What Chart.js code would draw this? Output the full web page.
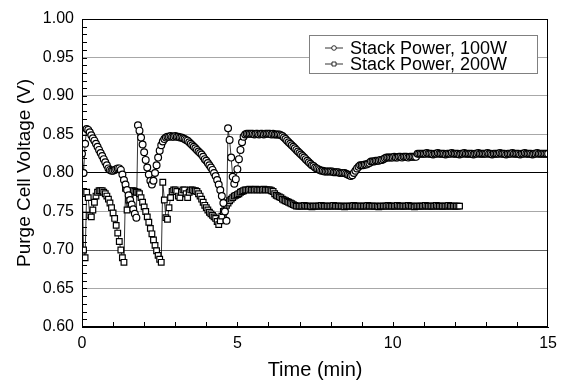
<!DOCTYPE html>
<html>
<head>
<meta charset="utf-8">
<script src="https://cdn.jsdelivr.net/npm/chart.js@4"></script>
<style>
  html, body { margin: 0; padding: 0; background: #fff; }
</style>
</head>
<body>
<canvas id="purgeChart" width="564" height="382"></canvas>
<script>
// logged every 3 s (0.05 min)
const sampleStep = 0.05;

const seriesLabels = ['Stack Power, 100W', 'Stack Power, 200W'];

const power100 = [
  0.825,0.800,0.838,0.857,0.856,0.853,0.849,0.845,0.842,0.838,0.834,0.830,0.826,0.822,0.818,0.814,0.810,0.806,0.804,0.803,
  0.803,0.804,0.805,0.806,0.806,0.804,0.798,0.791,0.785,0.778,0.771,0.765,0.759,0.753,0.747,0.742,0.862,0.855,0.846,0.837,
  0.827,0.817,0.807,0.798,0.790,0.785,0.790,0.800,0.810,0.820,0.829,0.836,0.841,0.844,0.846,0.847,0.847,0.848,0.847,0.847,
  0.848,0.847,0.847,0.846,0.846,0.845,0.844,0.843,0.842,0.840,0.838,0.836,0.834,0.832,0.830,0.828,0.826,0.824,0.821,0.818,
  0.816,0.813,0.810,0.807,0.804,0.800,0.796,0.791,0.785,0.778,0.770,0.761,0.750,0.738,0.858,0.843,0.820,0.795,0.786,0.792,
  0.805,0.818,0.830,0.840,0.847,0.850,0.851,0.851,0.851,0.851,0.851,0.850,0.851,0.851,0.850,0.851,0.851,0.850,0.851,0.851,
  0.851,0.851,0.850,0.851,0.850,0.850,0.850,0.850,0.849,0.848,0.846,0.844,0.842,0.840,0.838,0.836,0.834,0.832,0.830,0.828,
  0.826,0.824,0.822,0.820,0.818,0.816,0.814,0.812,0.810,0.809,0.807,0.806,0.805,0.804,0.803,0.803,0.802,0.802,0.802,0.802,
  0.802,0.802,0.801,0.801,0.801,0.801,0.800,0.800,0.800,0.800,0.799,0.798,0.797,0.796,0.797,0.800,0.803,0.806,0.808,0.810,
  0.810,0.810,0.811,0.811,0.812,0.813,0.815,0.815,0.815,0.816,0.816,0.816,0.817,0.817,0.818,0.819,0.820,0.820,0.820,0.820,
  0.820,0.821,0.820,0.820,0.821,0.821,0.820,0.821,0.821,0.821,0.820,0.821,0.821,0.821,0.821,0.821,0.825,0.825,0.825,0.825,
  0.825,0.825,0.826,0.825,0.825,0.825,0.824,0.825,0.825,0.826,0.825,0.825,0.825,0.825,0.824,0.825,0.825,0.825,0.826,0.825,
  0.825,0.825,0.825,0.824,0.825,0.825,0.826,0.825,0.825,0.825,0.825,0.825,0.824,0.825,0.825,0.826,0.825,0.825,0.825,0.825,
  0.825,0.826,0.825,0.825,0.824,0.825,0.825,0.825,0.825,0.826,0.825,0.825,0.825,0.824,0.825,0.825,0.825,0.826,0.825,0.825,
  0.825,0.825,0.824,0.825,0.825,0.826,0.825,0.825,0.825,0.825,0.824,0.825,0.825,0.826,0.825,0.825,0.825,0.825,0.825,0.825,
  0.825
];

const power200 = [
  0.800,0.700,0.690,0.775,0.768,0.745,0.743,0.752,0.762,0.770,0.775,0.777,0.777,0.777,0.775,0.773,0.770,0.766,0.761,0.755,
  0.748,0.741,0.732,0.722,0.711,0.700,0.690,0.684,0.780,0.752,0.765,0.773,0.777,0.777,0.776,0.775,0.775,0.773,0.768,0.762,
  0.756,0.750,0.743,0.736,0.728,0.721,0.713,0.706,0.699,0.693,0.688,0.684,0.788,0.765,0.742,0.740,0.755,0.768,0.776,0.778,
  0.778,0.776,0.770,0.768,0.775,0.778,0.778,0.773,0.768,0.775,0.778,0.778,0.777,0.777,0.776,0.773,0.770,0.766,0.762,0.758,
  0.755,0.752,0.749,0.747,0.745,0.743,0.741,0.737,0.733,0.738,0.744,0.750,0.754,0.758,0.761,0.764,0.766,0.768,0.770,0.771,
  0.772,0.773,0.775,0.776,0.777,0.778,0.778,0.778,0.779,0.778,0.778,0.778,0.779,0.778,0.778,0.778,0.778,0.779,0.778,0.778,
  0.778,0.778,0.777,0.776,0.773,0.771,0.770,0.769,0.768,0.766,0.765,0.764,0.763,0.762,0.761,0.760,0.759,0.758,0.757,0.757,
  0.757,0.757,0.757,0.758,0.757,0.757,0.757,0.757,0.756,0.757,0.757,0.757,0.757,0.757,0.758,0.757,0.757,0.757,0.757,0.757,
  0.757,0.757,0.758,0.757,0.757,0.757,0.757,0.757,0.757,0.756,0.757,0.757,0.757,0.757,0.757,0.758,0.757,0.757,0.757,0.757,
  0.757,0.757,0.757,0.757,0.758,0.757,0.757,0.757,0.757,0.757,0.757,0.756,0.757,0.757,0.757,0.757,0.757,0.758,0.757,0.757,
  0.757,0.757,0.757,0.758,0.757,0.757,0.757,0.757,0.757,0.757,0.758,0.757,0.757,0.757,0.756,0.757,0.757,0.757,0.757,0.757,
  0.757,0.758,0.757,0.757,0.757,0.757,0.757,0.757,0.758,0.757,0.757,0.757,0.757,0.757,0.757,0.757,0.758,0.757,0.757,0.757,
  0.757,0.757,0.757,0.757
];

const yTicks = [0.60, 0.65, 0.70, 0.75, 0.80, 0.85, 0.90, 0.95, 1.00];
const xTicks = [0, 5, 10, 15];

const fontFamily = '"Liberation Sans", Arial, Helvetica, sans-serif';

function toPoints(values) {
  return values.map((v, i) => ({ x: i * sampleStep, y: v }));
}

function gridColour(ctx) {
  const v = ctx.tick.value;
  if (Math.abs(v - 0.80) < 1e-6) return '#000';
  if (Math.abs(v - 0.70) < 1e-6) return '#606060';
  return '#a8a8a8';
}

// frame, inward minor ticks and the boxed legend
const frameAndLegend = {
  id: 'frameAndLegend',
  beforeDatasetsDraw(chart) {
    const { ctx, chartArea, scales } = chart;
    ctx.save();
    ctx.strokeStyle = '#000';
    ctx.lineWidth = 1;
    ctx.beginPath();
    for (let k = 60; k <= 100; k++) {
      const y = Math.round(scales.y.getPixelForValue(k / 100)) + 0.5;
      ctx.moveTo(chartArea.left, y);
      ctx.lineTo(chartArea.left + 5, y);
    }
    for (let m = 1; m < 15; m++) {
      const x = Math.round(scales.x.getPixelForValue(m)) + 0.5;
      ctx.moveTo(x, chartArea.bottom);
      ctx.lineTo(x, chartArea.bottom - 5);
    }
    ctx.stroke();
    ctx.restore();
  },
  afterDraw(chart) {
    const { ctx, chartArea } = chart;
    ctx.save();
    ctx.strokeStyle = '#000';
    ctx.lineWidth = 1;
    ctx.strokeRect(Math.round(chartArea.left) + 0.5, Math.round(chartArea.top) + 0.5,
      Math.round(chartArea.right - chartArea.left) - 1, Math.round(chartArea.bottom - chartArea.top) - 1);

    const bx = Math.round(chartArea.right) - 239;
    const by = Math.round(chartArea.top) + 16;
    ctx.fillStyle = '#fff';
    ctx.fillRect(bx, by, 228, 38);
    ctx.strokeStyle = '#808080';
    ctx.strokeRect(bx + 0.5, by + 0.5, 228, 38);

    chart.data.datasets.forEach((ds, i) => {
      const cy = by + 13 + i * 16;
      ctx.strokeStyle = '#000';
      ctx.lineWidth = 0.8;
      ctx.beginPath();
      ctx.moveTo(bx + 16, cy);
      ctx.lineTo(bx + 34, cy);
      ctx.stroke();
      ctx.fillStyle = '#fff';
      ctx.beginPath();
      if (ds.pointStyle === 'rect') {
        ctx.rect(bx + 23, cy - 2, 4, 4);
      } else {
        ctx.arc(bx + 25, cy, 2.3, 0, Math.PI * 2);
      }
      ctx.fill();
      ctx.stroke();
      ctx.fillStyle = '#000';
      ctx.font = '18px ' + fontFamily;
      ctx.textBaseline = 'middle';
      ctx.textAlign = 'left';
      ctx.fillText(ds.label, bx + 41, cy + 1);
    });
    ctx.restore();
  }
};

new Chart(document.getElementById('purgeChart'), {
  type: 'scatter',
  data: {
    datasets: [
      {
        label: seriesLabels[0],
        data: toPoints(power100),
        showLine: true,
        borderColor: '#000',
        borderWidth: 0.8,
        pointStyle: 'circle',
        pointRadius: 3.4,
        pointBorderWidth: 1.2,
        pointBackgroundColor: '#fff',
        pointBorderColor: '#000'
      },
      {
        label: seriesLabels[1],
        data: toPoints(power200),
        showLine: true,
        borderColor: '#000',
        borderWidth: 0.8,
        pointStyle: 'rect',
        pointRadius: 4,
        pointBorderWidth: 1.2,
        pointBackgroundColor: '#fff',
        pointBorderColor: '#000'
      }
    ]
  },
  options: {
    responsive: false,
    animation: false,
    devicePixelRatio: 1,
    layout: { padding: { left: 0, right: 13, top: 19, bottom: 0 } },
    plugins: { legend: { display: false }, tooltip: { enabled: false } },
    scales: {
      x: {
        type: 'linear',
        min: 0,
        max: 15,
        afterBuildTicks: (scale) => { scale.ticks = xTicks.map(v => ({ value: v })); },
        afterFit: (scale) => { scale.height = 55; },
        grid: { display: false, drawTicks: false },
        border: { display: true, color: '#000', width: 1 },
        ticks: {
          padding: 7,
          color: '#000',
          font: { family: fontFamily, size: 16 },
          maxRotation: 0,
          callback: (v) => String(v)
        },
        title: {
          display: true,
          text: 'Time (min)',
          color: '#000',
          font: { family: fontFamily, size: 20 },
          padding: { top: 0, bottom: 0 }
        }
      },
      y: {
        type: 'linear',
        min: 0.6,
        max: 1.0,
        afterBuildTicks: (scale) => { scale.ticks = yTicks.map(v => ({ value: v })); },
        afterFit: (scale) => { scale.width = 82; },
        grid: { color: gridColour, lineWidth: 1, drawTicks: false },
        border: { display: true, color: '#000', width: 1 },
        ticks: {
          padding: 8,
          color: '#000',
          font: { family: fontFamily, size: 16 },
          callback: (v) => Number(v).toFixed(2)
        },
        title: {
          display: true,
          text: 'Purge Cell Voltage (V)',
          color: '#000',
          font: { family: fontFamily, size: 19 },
          padding: { top: 13, bottom: 0 }
        }
      }
    }
  },
  plugins: [frameAndLegend]
});
</script>
</body>
</html>
